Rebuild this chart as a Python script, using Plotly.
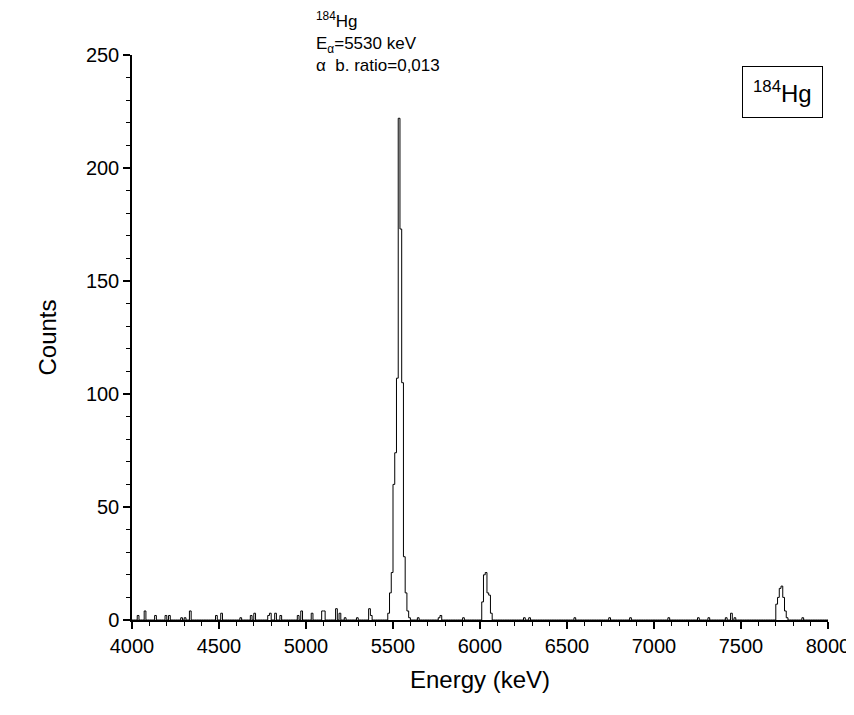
import plotly.graph_objects as go

# nonzero bins (10 keV wide)
energy = [4030, 4070, 4130, 4190, 4210, 4280, 4300, 4330, 4480, 4510, 4620, 4680, 4700,
          4780, 4790, 4820, 4850, 4950, 4970, 5030, 5090, 5100, 5170, 5190, 5220, 5290,
          5360, 5370,
          5470, 5480, 5490, 5500, 5510, 5520, 5530, 5540, 5550, 5560, 5570, 5580, 5590,
          5640, 5760, 5770, 5900,
          6010, 6020, 6030, 6040, 6050, 6060,
          6250, 6280, 6540, 6740, 6860, 7080, 7250, 7310, 7410, 7440, 7460,
          7700, 7710, 7720, 7730, 7740, 7750, 7760, 7850]
counts = [2, 4, 2, 2, 2, 1, 1, 4, 2, 3, 1, 2, 3,
          2, 3, 3, 2, 2, 4, 3, 4, 4, 5, 3, 1, 1,
          5, 2,
          3, 12, 21, 60, 74, 107, 222, 173, 105, 28, 12, 4, 1,
          1, 1, 2, 1,
          8, 20, 21, 12, 11, 3,
          1, 1, 1, 1, 1, 1, 1, 1, 1, 3, 1,
          7, 10, 14, 15, 10, 4, 1, 1]

lookup = dict(zip(energy, counts))
x = list(range(4000, 8010, 10))
y = [lookup.get(e, 0) for e in x]

fig = go.Figure(go.Scatter(x=x, y=y, mode="lines", line=dict(shape="hv", color="black", width=1)))

axis_common = dict(showline=True, linecolor="black", linewidth=1.5, ticks="outside", ticklen=7,
                   tickwidth=1.5, tickcolor="black", showgrid=False, zeroline=False,
                   tickfont=dict(size=20, color="black"), mirror=False,
                   minor=dict(ticks="outside", ticklen=4, tickwidth=1, tickcolor="black"))
fig.update_xaxes(range=[4000, 8000], dtick=500, title=dict(text="Energy (keV)", font=dict(size=24)), **axis_common)
fig.update_yaxes(range=[0, 250], dtick=50, title=dict(text="Counts", font=dict(size=24), standoff=22), **axis_common)

fig.add_annotation(xref="paper", yref="paper", x=0.262, y=1.085, xanchor="left", yanchor="top", showarrow=False,
                   align="left", font=dict(size=17, color="black"),
                   text="<sup>184</sup>Hg<br>E<sub>α</sub>=5530 keV<br>α  b. ratio=0,013")
fig.add_annotation(xref="paper", yref="paper", x=0.993, y=0.98, xanchor="right", yanchor="top", showarrow=False,
                   font=dict(size=24, color="black"), text="<sup>184</sup>Hg",
                   bordercolor="black", borderwidth=1, borderpad=10, bgcolor="white")

fig.update_layout(width=854, height=715, plot_bgcolor="white", paper_bgcolor="white",
                  font=dict(family="Liberation Sans, Arial", color="black"),
                  margin=dict(l=124, r=32, t=47, b=103), showlegend=False)
fig.write_html("out.html")
